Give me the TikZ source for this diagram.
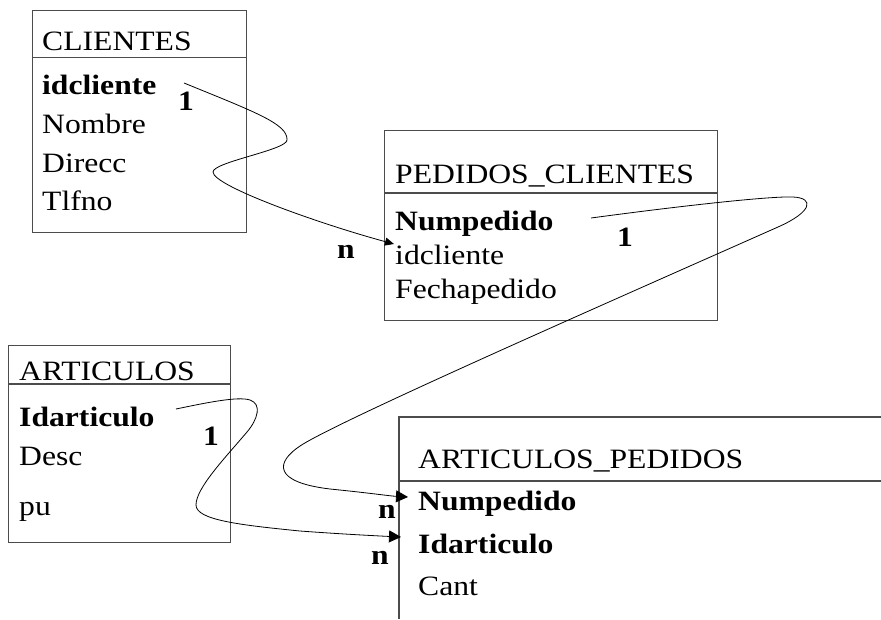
\documentclass[tikz,border=0pt]{standalone}
\usepackage{fontspec}
\setmainfont{Liberation Serif}[FakeStretch=1.13]
\usetikzlibrary{arrows.meta}
\tikzset{
  txt/.style={anchor=base west, inner sep=0pt, font=\fontsize{28}{34}\selectfont},
  btxt/.style={anchor=base west, inner sep=0pt, font=\fontsize{28}{34}\selectfont\bfseries},
  boxline/.style={draw=black!70, line width=1.2pt},
  tblbox/.style={boxline, anchor=north west, inner sep=0pt},
  conn/.style={draw=black, line width=0.8pt},
  bigtip/.style={-{Triangle[length=12pt,width=12pt]}},
  smalltip/.style={-{Triangle[length=9pt,width=8pt]}},
}
\begin{document}
\begin{tikzpicture}[x=1pt,y=-1pt]
\useasboundingbox (0,0) rectangle (881,619);

% CLIENTES
\node[tblbox, minimum width=214pt, minimum height=222pt] (cliBox) at (32,10) {};
\draw[boxline] (cliBox.west |- 0,57.5) -- (cliBox.east |- 0,57.5);
\node[txt]  (cliT)  at (42,50)  {CLIENTES};
\node[btxt] (cliId) at (42,94)  {idcliente};
\node[txt]  (cliNo) at (42,133) {Nombre};
\node[txt]  (cliDi) at (42,172) {Direcc};
\node[txt]  (cliTl) at (42,210) {Tlfno};
\node[btxt] (one1)  at (178,110) {1};

% PEDIDOS_CLIENTES
\node[tblbox, minimum width=333pt, minimum height=190pt] (pedBox) at (384,130) {};
\draw[boxline] (pedBox.west |- 0,193) -- (pedBox.east |- 0,193);
\node[txt]  (pedT)  at (395,183) {PEDIDOS\_CLIENTES};
\node[btxt] (pedNu) at (395,230) {Numpedido};
\node[txt]  (pedId) at (395,264) {idcliente};
\node[txt]  (pedFe) at (395,298) {Fechapedido};
\node[btxt] (one2)  at (617,246) {1};
\node[btxt] (n1)    at (337,258) {n};

% ARTICULOS
\node[tblbox, minimum width=222pt, minimum height=197pt] (artBox) at (8,345) {};
\draw[boxline] (artBox.west |- 0,384) -- (artBox.east |- 0,384);
\node[txt]  (artT)  at (19,380.5) {ARTICULOS};
\node[btxt] (artId) at (19,426) {Idarticulo};
\node[txt]  (artDe) at (19,465) {Desc};
\node[txt]  (artPu) at (19,515) {pu};
\node[btxt] (one3)  at (203,445) {1};

% ARTICULOS_PEDIDOS (cut off at right and bottom)
\coordinate (apTR) at (881,417);
\coordinate (apTL) at (399,417);
\coordinate (apBL) at (399,619);
\draw[boxline] (apTR) -- (apTL) -- (apBL);
\draw[boxline] (apTL |- 0,481) -- (apTR |- 0,481);
\node[txt]  (apT)  at (418,468) {ARTICULOS\_PEDIDOS};
\node[btxt] (apNu) at (418,510) {Numpedido};
\node[btxt] (apId) at (418,553) {Idarticulo};
\node[txt]  (apCa) at (418,595) {Cant};
\node[btxt] (n2)   at (378,518) {n};
\node[btxt] (n3)   at (371,564) {n};

% connector ends
\coordinate (c1s) at (184,83);
\coordinate (c1e) at (394,244);
\coordinate (c2s) at (591,218);
\coordinate (c2e) at (408,497);
\coordinate (c3s) at (176,409);
\coordinate (c3e) at (401,537);

% CLIENTES.idcliente -> PEDIDOS_CLIENTES.idcliente
\draw[conn, smalltip] (c1s)
  .. controls (255,112) and (288,124) .. (287,140)
  .. controls (287,150) and (213,162) .. (213,172)
  .. controls (213,186) and (320,224) .. (c1e);

% PEDIDOS_CLIENTES.Numpedido -> ARTICULOS_PEDIDOS.Numpedido
\draw[conn, bigtip] (c2s)
  .. controls (680,206) and (770,196) .. (793,197)
  .. controls (815,198) and (812,212) .. (778,227)
  .. controls (600,306) and (336,422) .. (300,446)
  .. controls (276,462) and (272,482) .. (330,489)
  .. controls (370,493) and (390,496) .. (c2e);

% ARTICULOS.Idarticulo -> ARTICULOS_PEDIDOS.Idarticulo
\draw[conn, bigtip] (c3s)
  .. controls (205,403) and (238,396) .. (250,400)
  .. controls (262,404) and (258,419) .. (247,432)
  .. controls (225,458) and (196,488) .. (196,505)
  .. controls (196,520) and (240,525) .. (300,531)
  .. controls (340,534) and (380,536) .. (c3e);
\end{tikzpicture}
\end{document}
